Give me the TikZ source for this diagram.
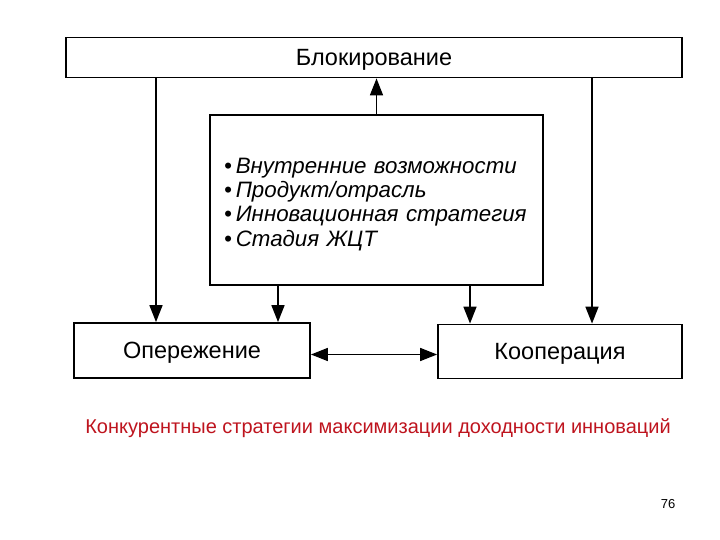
\documentclass[tikz,border=0pt]{standalone}
\usepackage{fontspec}
\setsansfont{Liberation Sans}
\usepackage{xcolor}
\usetikzlibrary{arrows.meta, positioning}

\definecolor{captionred}{RGB}{190,20,30}

\begin{document}
\begin{tikzpicture}[
    x=1pt, y=-1pt,
    box/.style={rectangle, draw, line width=1.8pt, inner sep=0pt,
                text height=16.8pt, text depth=0pt,
                font=\sffamily\fontsize{23.5}{26}\selectfont},
    listbox/.style={rectangle, draw, line width=1.8pt, inner xsep=14pt, inner ysep=10pt,
                    minimum width=333pt, minimum height=170pt,
                    text width=305pt, align=left, text depth=69pt,
                    font=\sffamily\itshape\fontsize{22.3}{24.3}\selectfont},
    arr/.style={-{Triangle[length=17pt, width=13pt]}, line width=1.7pt},
    dblarr/.style={{Triangle[length=17pt, width=13pt]}-{Triangle[length=17pt, width=13pt]}, line width=1.7pt},
]
  \useasboundingbox (0,0) rectangle (720,540);

  \node[box, minimum width=616pt, minimum height=40pt] (block) at (374,57.5) {Блокирование};
  \node[listbox] (factors) at (376.5,200)
    {\textbullet\hspace{4pt}Внутренние возможности\\
     \textbullet\hspace{4pt}Продукт/отрасль\\
     \textbullet\hspace{4pt}Инновационная стратегия\\
     \textbullet\hspace{4pt}Стадия ЖЦТ};
  \node[box, minimum width=236pt, minimum height=55pt] (lead) at (192,350.5) {Опережение};
  \node[box, minimum width=244pt, minimum height=54pt] (coop) at (560,351.5) {Кооперация};

  % x positions of the vertical links
  \coordinate (xa) at (156,0);
  \coordinate (xb) at (278,0);
  \coordinate (xc) at (470,0);
  \coordinate (xd) at (592,0);

  \draw[arr] (factors.north) -- (block.south -| factors.north);
  \draw[arr] (block.south -| xa) -- (lead.north -| xa);
  \draw[arr] (factors.south -| xb) -- (lead.north -| xb);
  \draw[arr] (factors.south -| xc) -- (coop.north -| xc);
  \draw[arr] (block.south -| xd) -- (coop.north -| xd);
  \draw[dblarr] ([yshift=-4pt]lead.east) -- ([yshift=-4pt]lead.east -| coop.west);

  \node[font=\sffamily\fontsize{20}{23}\selectfont, text=captionred] (caption) at (378,428)
    {Конкурентные стратегии максимизации доходности инноваций};
  \node[font=\sffamily\fontsize{13}{15}\selectfont] (page) at (668,504) {76};
\end{tikzpicture}
\end{document}
